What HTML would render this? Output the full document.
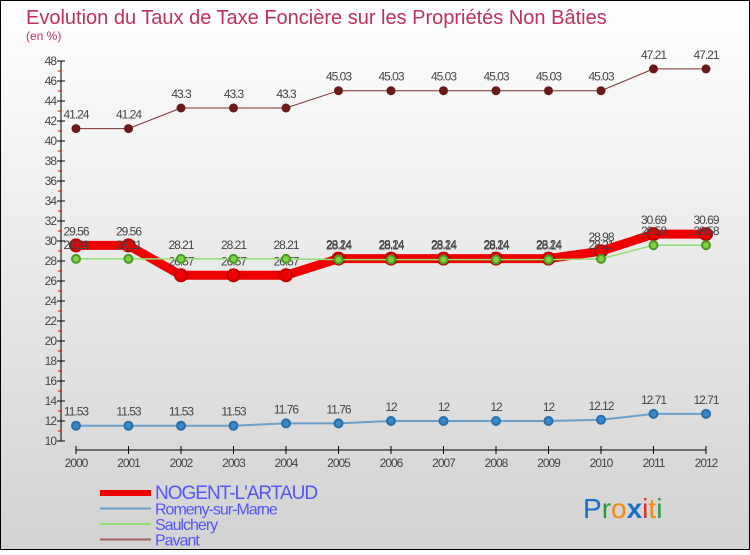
<!DOCTYPE html>
<html><head><meta charset="utf-8"><style>
body{margin:0}
#c{width:750px;height:550px;position:relative;font-family:"Liberation Sans",sans-serif}
</style></head><body>
<div id="c">
<svg id="s" width="750" height="550" xmlns="http://www.w3.org/2000/svg">
<defs><linearGradient id="bg" x1="0" y1="0" x2="0" y2="1"><stop offset="0" stop-color="#ffffff"/><stop offset="1" stop-color="#d2d2d2"/></linearGradient></defs>
<rect x="0.5" y="0.5" width="749" height="549" fill="url(#bg)" stroke="#000"/>
<text x="26" y="24" font-size="20" fill="#c0305a">Evolution du Taux de Taxe Foncière sur les Propriétés Non Bâties</text>
<text x="26" y="40" font-size="12" fill="#c0305a">(en %)</text>
<g id="axes"></g><g id="series"></g><g id="legend"></g>
<text x="583" y="518" font-size="28" font-family="Liberation Sans, sans-serif"><tspan fill="#1a6fc8">P</tspan><tspan fill="#2a9a3a">r</tspan><tspan fill="#f08a10">o</tspan><tspan fill="#1a6fc8" font-weight="bold">x</tspan><tspan fill="#e03020">i</tspan><tspan fill="#f08a10">t</tspan><tspan fill="#2a9a3a">i</tspan></text>
</svg></div>
<script>
const years=[2000,2001,2002,2003,2004,2005,2006,2007,2008,2009,2010,2011,2012];
const yTicks=[10,12,14,16,18,20,22,24,26,28,30,32,34,36,38,40,42,44,46,48];
const nogent=[29.56,29.56,26.57,26.57,26.57,28.24,28.24,28.24,28.24,28.24,28.98,30.69,30.69];
const romeny=[11.53,11.53,11.53,11.53,11.76,11.76,12,12,12,12,12.12,12.71,12.71];
const saulchery=[28.21,28.21,28.21,28.21,28.21,28.14,28.14,28.14,28.14,28.14,28.21,29.58,29.58];
const pavant=[41.24,41.24,43.3,43.3,43.3,45.03,45.03,45.03,45.03,45.03,45.03,47.21,47.21];
const NS="http://www.w3.org/2000/svg";
const X=i=>76+i*52.5, Y=v=>441-(v-10)*10;
function mk(p,t,a){const e=document.createElementNS(NS,t);for(const k in a)e.setAttribute(k,a[k]);p.appendChild(e);return e;}
const ax=document.getElementById('axes');
let l=mk(ax,'line',{x1:61,y1:61,x2:61,y2:441,stroke:'#000'});


l=mk(ax,'line',{x1:76,y1:450,x2:706,y2:450,stroke:'#000'});


yTicks.forEach(v=>{
 mk(ax,'line',{x1:57,y1:Y(v),x2:65,y2:Y(v),stroke:'#000'});
 if(v<48)mk(ax,'line',{x1:58,y1:Y(v+1),x2:61,y2:Y(v+1),stroke:'#e00'});
 const t=mk(ax,'text',{x:56,y:Y(v)+4,'font-size':12,'text-anchor':'end',fill:'#444','letter-spacing':'-1'});t.textContent=v;
 
 
});
years.forEach((y,i)=>{
 mk(ax,'line',{x1:X(i),y1:446,x2:X(i),y2:454,stroke:'#000'});
 const t=mk(ax,'text',{x:X(i),y:467,'font-size':12,'text-anchor':'middle',fill:'#444','letter-spacing':'-1'});t.textContent=y;
 
 
});
const sg=document.getElementById('series');
function series(data,color,w,r,name,dot,stroke){
 const g=mk(sg,'g',{});
 
 
 mk(g,'polyline',{points:data.map((v,i)=>X(i)+','+Y(v)).join(' '),fill:'none',stroke:color,'stroke-width':w});
 data.forEach((v,i)=>{
  const c=mk(g,'circle',{cx:X(i),cy:Y(v),r:r,fill:dot,stroke:stroke||'none','stroke-width':2});
  
  
  const t=mk(g,'text',{x:X(i),y:Y(v)-10,'font-size':12,'text-anchor':'middle',fill:'#444','letter-spacing':'-1'});t.textContent=v;
  
  
 });
}
series(pavant,'#7a3030',1,4.5,'pavant-series','#6a1a1a');
series(nogent,'#ee0000',9,6,'nogent-series','#ee0000','#c00000');
series(saulchery,'#90e070',1.5,4,'saulchery-series','#80d040','#4a9a2a');
series(romeny,'#6aa0cc',2,4,'romeny-series','#3a88c8','#2a6ea8');
const lg=document.getElementById('legend');
const leg=[['NOGENT-L\'ARTAUD','#ee0000',6,19],['Romeny-sur-Marne','#6aa0cc',2,16],['Saulchery','#90e070',2,16],['Pavant','#a06060',2,16]];
leg.forEach((e,i)=>{
 const y=493+i*15.5;
 const g=mk(lg,'g',{});
 
 
 mk(g,'line',{x1:100,y1:y,x2:151,y2:y,stroke:e[1],'stroke-width':e[2]});
 const t=mk(g,'text',{x:155,y:y+6,'font-size':e[3],fill:'#5555ff','letter-spacing':'-1'});t.textContent=e[0];
});
</script>
</body></html>
